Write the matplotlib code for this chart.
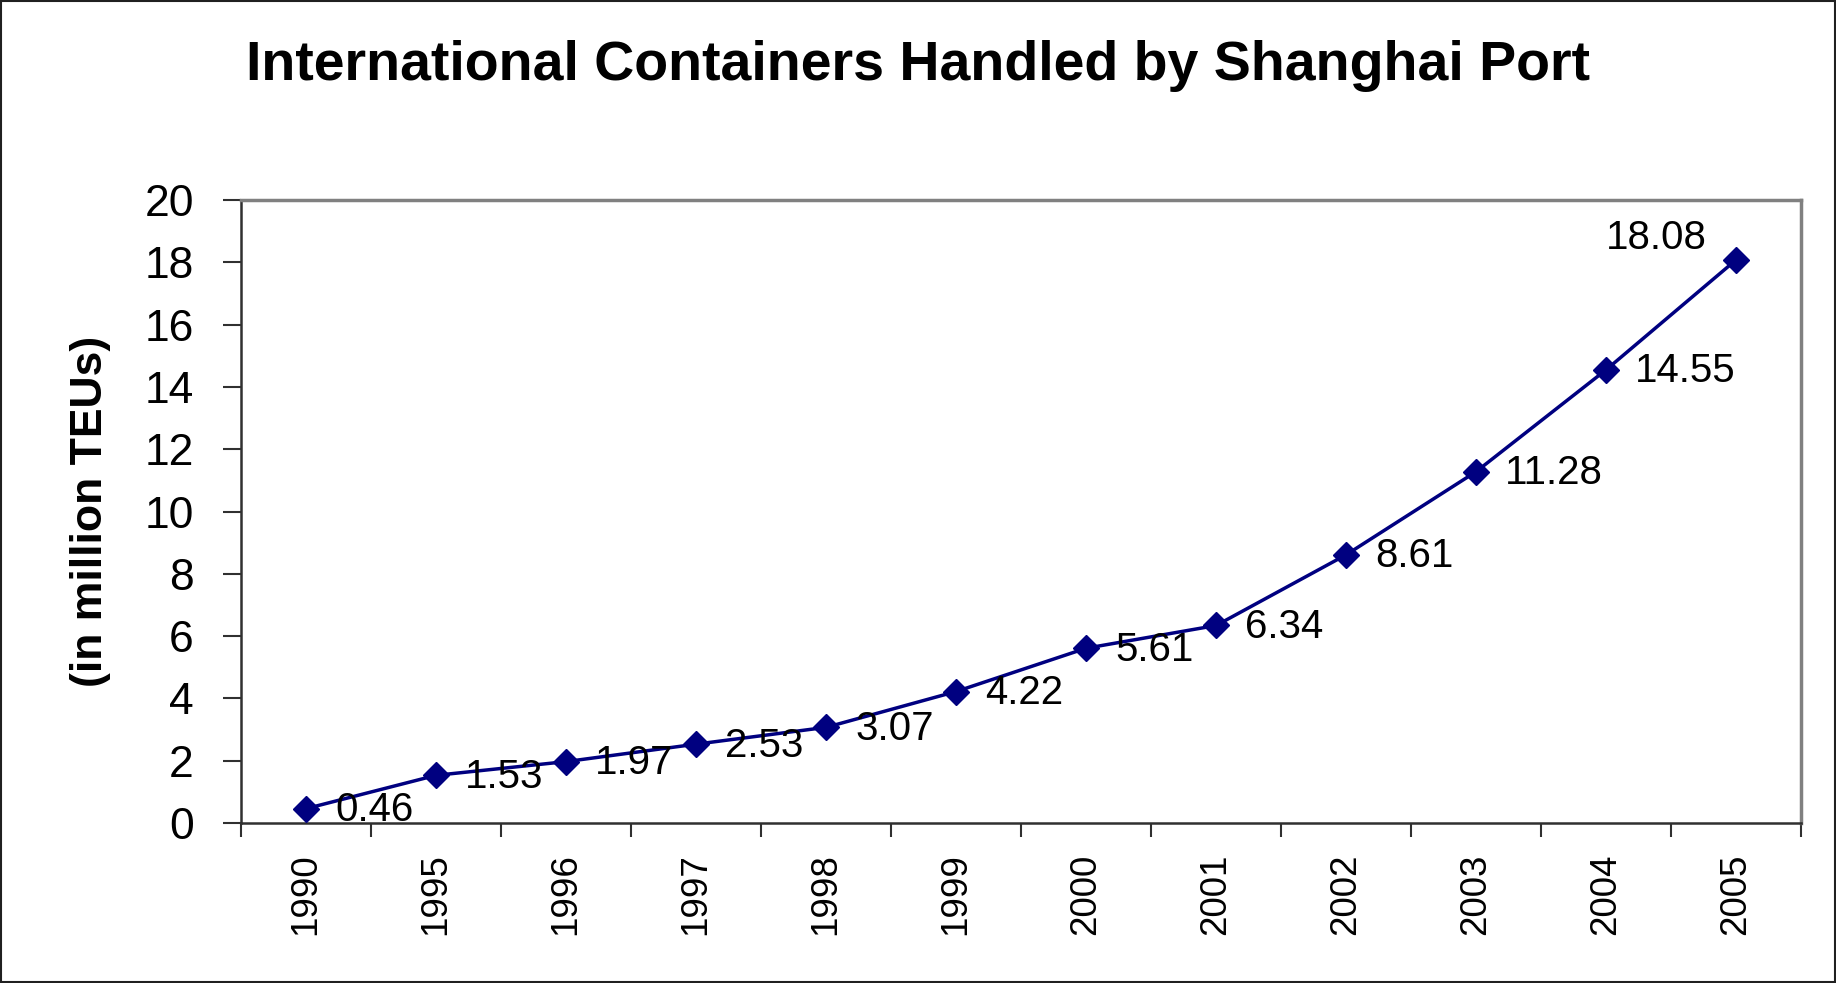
import matplotlib as mpl
mpl.use('Agg')
import matplotlib.pyplot as plt
from matplotlib.patches import Rectangle
import numpy as np

# Data
years = ['1990', '1995', '1996', '1997', '1998', '1999',
         '2000', '2001', '2002', '2003', '2004', '2005']
teus = [0.46, 1.53, 1.97, 2.53, 3.07, 4.22,
        5.61, 6.34, 8.61, 11.28, 14.55, 18.08]

plt.rcParams['font.family'] = ['Liberation Sans', 'DejaVu Sans']

fig = plt.figure(figsize=(18.36, 9.83), dpi=100)
ax = fig.add_axes([0.1313, 0.1628, 0.981 - 0.1313, 0.7965 - 0.1628])

x = np.arange(len(years))
navy = '#000080'
ax.plot(x, teus, color=navy, lw=2.5, marker='D', ms=13,
        markerfacecolor=navy, markeredgecolor=navy, zorder=3)

# Data labels: right of each point, except the last one (above-left)
for i, v in enumerate(teus):
    if i == len(teus) - 1:
        ax.annotate('%.2f' % v, (x[i], v), xytext=(-21, 16),
                    textcoords='offset points', ha='right', va='center',
                    fontsize=29)
    else:
        ax.annotate('%.2f' % v, (x[i], v), xytext=(21, -1),
                    textcoords='offset points', ha='left', va='center',
                    fontsize=29)

ax.set_xlim(-0.5, len(years) - 0.5)
ax.set_ylim(0, 20)
ax.set_yticks(np.arange(0, 21, 2))

# Excel-style category axis: ticks between categories, labels centred
ax.set_xticks(np.arange(-0.5, len(years), 1.0))
ax.set_xticklabels([])
ax.set_xticks(x, minor=True)
ax.set_xticklabels(years, minor=True, rotation=90, fontsize=26.5)
ax.tick_params(axis='x', which='major', direction='out', length=10,
               width=1.5, color='#303030')
ax.tick_params(axis='x', which='minor', length=0, pad=22)
ax.tick_params(axis='y', direction='out', length=13, width=1.5,
               color='#303030', labelsize=32, pad=21)

for s in ['left', 'bottom']:
    ax.spines[s].set_color('#303030')
    ax.spines[s].set_linewidth(1.8)
for s in ['top', 'right']:
    ax.spines[s].set_color('#808080')
    ax.spines[s].set_linewidth(2.5)

ax.set_ylabel('(in million TEUs)', fontsize=32, fontweight='bold',
              labelpad=24)

fig.text(0.5, 1 - 66 / 983, 'International Containers Handled by Shanghai Port',
         ha='center', va='center', fontsize=40, fontweight='bold')

# thin frame around the whole chart
fig.patches.append(Rectangle((0.0005, 0.001), 0.999, 0.998,
                             transform=fig.transFigure, fill=False,
                             edgecolor='#202020', lw=1.5))

fig.savefig('out.png', dpi=100)
